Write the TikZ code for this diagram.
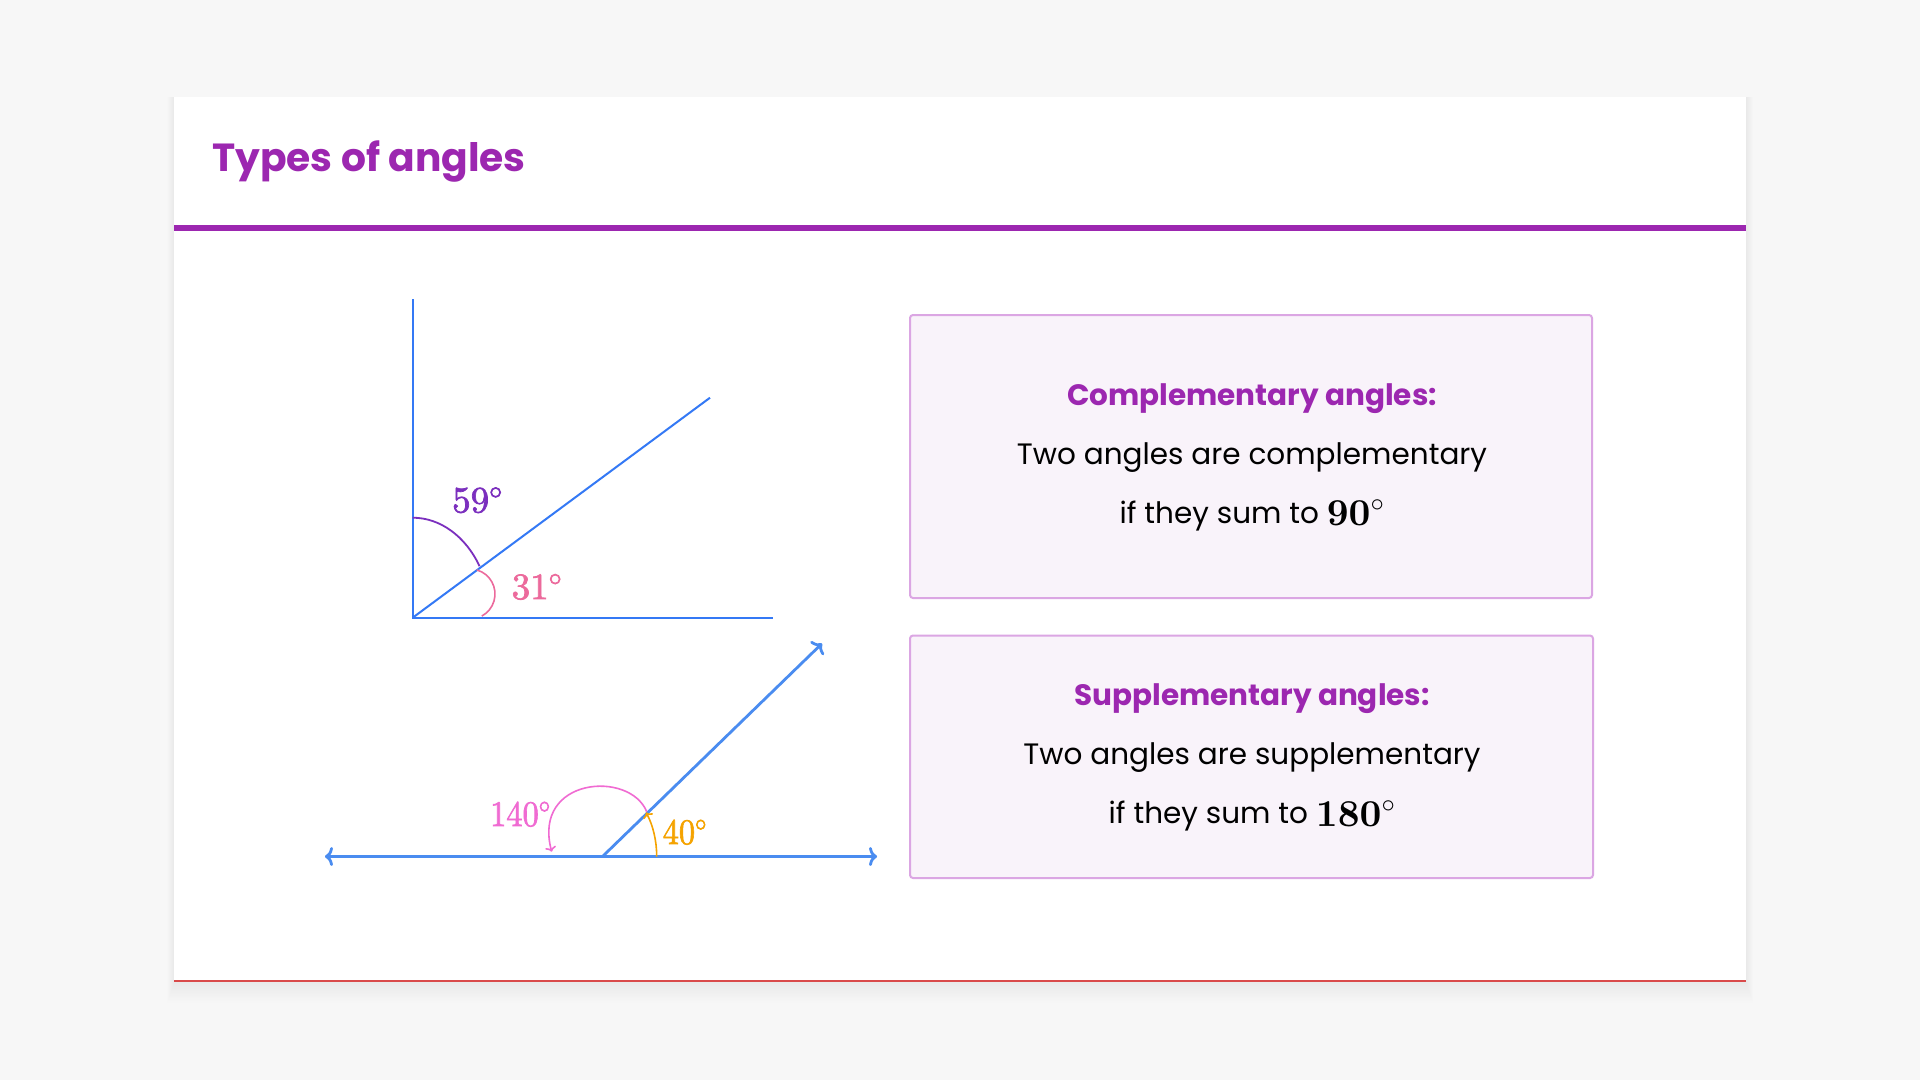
\RequirePackage{fix-cm}
\documentclass[tikz,border=0pt]{standalone}
\usepackage[no-math]{fontspec}
\setmainfont{Poppins}
\usetikzlibrary{arrows.meta}
\definecolor{pagebg}{HTML}{F7F7F7}
\definecolor{titlepurple}{HTML}{9C27B0}
\definecolor{cardred}{HTML}{D94A4A}
\definecolor{boxline}{HTML}{DBA6E3}
\definecolor{boxfill}{HTML}{F9F3FA}
\definecolor{blueA}{HTML}{3479F5}
\definecolor{blueB}{HTML}{4A8CF0}
\definecolor{violet59}{HTML}{7B2FBE}
\definecolor{pink31}{HTML}{EC6A9C}
\definecolor{pink140}{HTML}{F06BD2}
\definecolor{orange40}{HTML}{F5A300}
\font\lblfont=cmr10 at 37pt
\font\botfont=cmr10 at 36pt
\font\bnumfont=cmbx10 at 38pt
\newcommand{\heavy}[1]{\special{pdf:literal direct 2 Tr 0.7 w}#1\special{pdf:literal direct 0 Tr}}
\tikzset{
  infobox/.style={draw=boxline, fill=boxfill, line width=2pt, rounded corners=3pt, inner sep=0},
  headtxt/.style={anchor=base, inner sep=0, text=titlepurple, font=\fontsize{29.5}{35}\selectfont\bfseries},
  bodytxt/.style={anchor=base, inner sep=0, text=black, font=\fontsize{29.5}{35}\selectfont},
  rayA/.style={draw=blueA, line width=2pt},
  rayB/.style={draw=blueB, line width=2.8pt},
  bigtip/.style={-{Computer Modern Rightarrow[length=8pt,width=19pt]}},
  bigtips/.style={{Computer Modern Rightarrow[length=8pt,width=19pt]}-{Computer Modern Rightarrow[length=8pt,width=19pt]}},
  smalltip/.style={-{Computer Modern Rightarrow[length=5pt,width=11pt]}},
  toplabel/.style={anchor=base west, inner sep=0, font=\fontsize{37}{44}\selectfont\lblfont},
  botlabel/.style={anchor=base west, inner sep=0, xscale=0.9, font=\fontsize{36}{42}\selectfont\botfont}
}
\newcommand{\bignum}[1]{\raisebox{-2.5pt}{\fontsize{38}{42}\selectfont\bnumfont #1$^{\circ}$}}
\begin{document}
\begin{tikzpicture}[x=1pt,y=-1pt]
\useasboundingbox (0,0) rectangle (1920,1080);
\fill[pagebg] (0,0) rectangle (1920,1080);
% card shadow
\foreach \i in {1,...,14}
  \fill[black, opacity=0.004] (174-0.5*\i,97) rectangle (1746+0.5*\i,981+1.4*\i+2);
% card
\fill[white] (174,97) rectangle (1746,981);
\draw[cardred, line width=1.2pt] (174,981) -- (1746,981);
\fill[titlepurple] (174,225) rectangle (1746,231);
\node[anchor=base west, inner sep=0, text=titlepurple, font=\fontsize{39.2}{47}\selectfont\bfseries] (title) at (212,171) {Types of angles};

% top diagram: complementary
\coordinate (O) at (412.7,617.7);
\coordinate (Otop) at (412.7,299);
\coordinate (Oright) at (772.7,617.7);
\coordinate (Odiag) at (710,397.7);
\draw[rayA] (Otop) -- (O) -- (Oright);
\draw[rayA] (O) -- (Odiag);
\draw[violet59, line width=1.8pt] (412.7,517.7) arc[start angle=-90, end angle=-31, x radius=78, y radius=100];
\draw[pink31, line width=1.6pt] (470,594) ++(-74:25) arc[start angle=-74, end angle=62, radius=25];
\node[toplabel, text=violet59] (l59) at (452,512.3) {\heavy{59$^\circ$}};
\node[toplabel, text=pink31] (l31) at (511.5,599) {\heavy{31$^\circ$}};

% bottom diagram: supplementary
\coordinate (V) at (602.5,856.5);
\coordinate (L) at (325,856.5);
\coordinate (R) at (877,856.5);
\coordinate (E) at (822,643.5);
\coordinate (A) at (646.7,811.7);
\coordinate (B) at (551.7,851.7);
\draw[rayB, bigtips] (L) -- (R);
\draw[rayB, bigtip] (V) -- (E);
\draw[pink140, line width=1.6pt, smalltip] (A) .. controls (630,770) and (532,777) .. (B);
\draw[orange40, line width=1.6pt, smalltip] (656.7,856.5) arc[start angle=0, end angle=-36.5, x radius=54.2, y radius=74];
\node[botlabel, text=pink140] (l140) at (490,826) {\heavy{140$^\circ$}};
\node[botlabel, text=orange40] (l40) at (662.5,844) {\heavy{40$^\circ$}};

% info boxes
\node[infobox, minimum width=682pt, minimum height=283pt] (box1) at (1251,456.5) {};
\node[infobox, minimum width=683pt, minimum height=242.5pt] (box2) at (1251.5,756.75) {};
\node[headtxt] (h1) at (1252,405) {Complementary angles:};
\node[bodytxt] (b1a) at (1252,464) {Two angles are complementary};
\node[bodytxt] (b1b) at (1252,523) {if they sum to \bignum{90}};
\node[headtxt] (h2) at (1252,705) {Supplementary angles:};
\node[bodytxt] (b2a) at (1252,764.3) {Two angles are supplementary};
\node[bodytxt] (b2b) at (1252,823.5) {if they sum to \bignum{180}};
\end{tikzpicture}
\end{document}
